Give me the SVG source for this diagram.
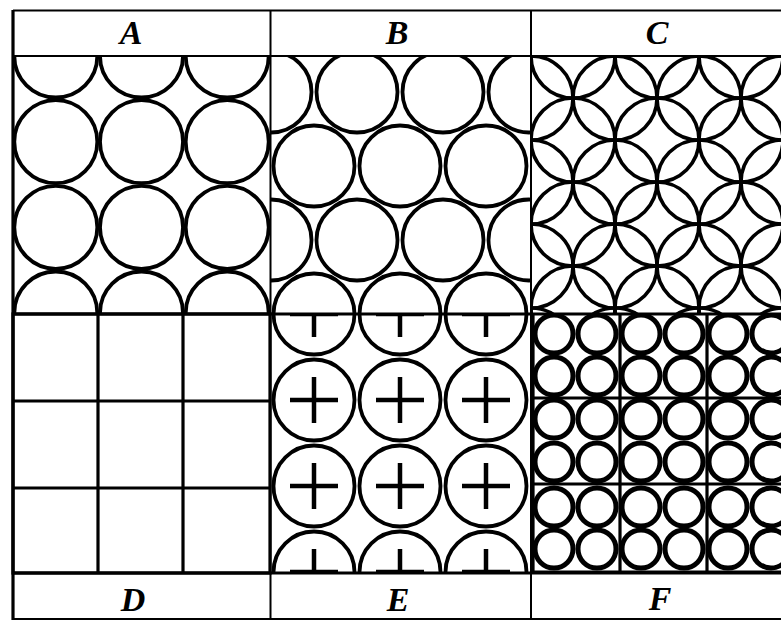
<svg xmlns="http://www.w3.org/2000/svg" xmlns:xlink="http://www.w3.org/1999/xlink" width="781" height="621" viewBox="0 0 781 621">
<style>
.frame{stroke:#000;stroke-width:2;fill:none}
.heavy{stroke:#000;stroke-width:3.2;fill:none}
.ca{fill:none;stroke:#000;stroke-width:3.8}
.cb{fill:none;stroke:#000;stroke-width:3.8}
.cc{fill:none;stroke:#000;stroke-width:3.6}
.cf{fill:none;stroke:#000;stroke-width:5}
.cross{stroke:#000;stroke-width:4.5;fill:none}
.lbl{font-family:"Liberation Serif","Times New Roman",serif;font-style:italic;font-weight:bold;font-size:34px;fill:#000;text-anchor:middle}
</style>
<defs>
<clipPath id="clipA"><rect x="13" y="56" width="257" height="258"/></clipPath>
<clipPath id="clipB"><rect x="270" y="56" width="261" height="258"/></clipPath>
<clipPath id="clipC"><rect x="531" y="56" width="250" height="258"/></clipPath>
<clipPath id="clipE"><rect x="270" y="314" width="261" height="259"/></clipPath>
<clipPath id="clipF"><rect x="531" y="314" width="250" height="259"/></clipPath>
<g id="crossT"><line x1="-24" y1="0" x2="24" y2="0"/><line x1="0" y1="-23" x2="0" y2="23"/></g>
</defs>
<rect x="0" y="0" width="781" height="621" fill="#fff"/>

<g id="panelA" clip-path="url(#clipA)">
<circle class="ca" cx="55.8" cy="56" r="41.5"/><circle class="ca" cx="141.5" cy="56" r="41.5"/><circle class="ca" cx="227.2" cy="56" r="41.5"/>
<circle class="ca" cx="55.8" cy="141.7" r="41.5"/><circle class="ca" cx="141.5" cy="141.7" r="41.5"/><circle class="ca" cx="227.2" cy="141.7" r="41.5"/>
<circle class="ca" cx="55.8" cy="227.3" r="41.5"/><circle class="ca" cx="141.5" cy="227.3" r="41.5"/><circle class="ca" cx="227.2" cy="227.3" r="41.5"/>
<circle class="ca" cx="55.8" cy="313" r="41.5"/><circle class="ca" cx="141.5" cy="313" r="41.5"/><circle class="ca" cx="227.2" cy="313" r="41.5"/>
</g>

<g id="panelB" clip-path="url(#clipB)">
<circle class="cb" cx="271" cy="92" r="40.5"/><circle class="cb" cx="357" cy="92" r="40.5"/><circle class="cb" cx="443" cy="92" r="40.5"/><circle class="cb" cx="529" cy="92" r="40.5"/>
<circle class="cb" cx="314" cy="166" r="40.5"/><circle class="cb" cx="400" cy="166" r="40.5"/><circle class="cb" cx="486" cy="166" r="40.5"/>
<circle class="cb" cx="271" cy="240" r="40.5"/><circle class="cb" cx="357" cy="240" r="40.5"/><circle class="cb" cx="443" cy="240" r="40.5"/><circle class="cb" cx="529" cy="240" r="40.5"/>
<circle class="cb" cx="314" cy="314" r="40.5"/><circle class="cb" cx="400" cy="314" r="40.5"/><circle class="cb" cx="486" cy="314" r="40.5"/>
</g>

<g id="panelC" clip-path="url(#clipC)">
<circle class="cc" cx="531" cy="14" r="42"/><circle class="cc" cx="615" cy="14" r="42"/><circle class="cc" cx="699" cy="14" r="42"/><circle class="cc" cx="783" cy="14" r="42"/>
<circle class="cc" cx="489" cy="56" r="42"/><circle class="cc" cx="573" cy="56" r="42"/><circle class="cc" cx="657" cy="56" r="42"/><circle class="cc" cx="741" cy="56" r="42"/><circle class="cc" cx="825" cy="56" r="42"/>
<circle class="cc" cx="531" cy="98" r="42"/><circle class="cc" cx="615" cy="98" r="42"/><circle class="cc" cx="699" cy="98" r="42"/><circle class="cc" cx="783" cy="98" r="42"/>
<circle class="cc" cx="489" cy="140" r="42"/><circle class="cc" cx="573" cy="140" r="42"/><circle class="cc" cx="657" cy="140" r="42"/><circle class="cc" cx="741" cy="140" r="42"/><circle class="cc" cx="825" cy="140" r="42"/>
<circle class="cc" cx="531" cy="182" r="42"/><circle class="cc" cx="615" cy="182" r="42"/><circle class="cc" cx="699" cy="182" r="42"/><circle class="cc" cx="783" cy="182" r="42"/>
<circle class="cc" cx="489" cy="224" r="42"/><circle class="cc" cx="573" cy="224" r="42"/><circle class="cc" cx="657" cy="224" r="42"/><circle class="cc" cx="741" cy="224" r="42"/><circle class="cc" cx="825" cy="224" r="42"/>
<circle class="cc" cx="531" cy="266" r="42"/><circle class="cc" cx="615" cy="266" r="42"/><circle class="cc" cx="699" cy="266" r="42"/><circle class="cc" cx="783" cy="266" r="42"/>
<circle class="cc" cx="489" cy="308" r="42"/><circle class="cc" cx="573" cy="308" r="42"/><circle class="cc" cx="657" cy="308" r="42"/><circle class="cc" cx="741" cy="308" r="42"/><circle class="cc" cx="825" cy="308" r="42"/>
<circle class="cc" cx="531" cy="350" r="42"/><circle class="cc" cx="615" cy="350" r="42"/><circle class="cc" cx="699" cy="350" r="42"/><circle class="cc" cx="783" cy="350" r="42"/>
</g>

<g id="panelD">
<rect class="heavy" x="13" y="314" width="257" height="259"/>
<line class="heavy" x1="98" y1="314" x2="98" y2="573"/>
<line class="heavy" x1="183" y1="314" x2="183" y2="573"/>
<line class="heavy" x1="13" y1="401" x2="270" y2="401"/>
<line class="heavy" x1="13" y1="488" x2="270" y2="488"/>
</g>

<g id="panelE" clip-path="url(#clipE)">
<circle class="cb" cx="314" cy="314" r="40.5"/><circle class="cb" cx="400" cy="314" r="40.5"/><circle class="cb" cx="486" cy="314" r="40.5"/>
<circle class="cb" cx="314" cy="400" r="40.5"/><circle class="cb" cx="400" cy="400" r="40.5"/><circle class="cb" cx="486" cy="400" r="40.5"/>
<circle class="cb" cx="314" cy="486" r="40.5"/><circle class="cb" cx="400" cy="486" r="40.5"/><circle class="cb" cx="486" cy="486" r="40.5"/>
<circle class="cb" cx="314" cy="572" r="40.5"/><circle class="cb" cx="400" cy="572" r="40.5"/><circle class="cb" cx="486" cy="572" r="40.5"/>
<g class="cross">
<use xlink:href="#crossT" x="314" y="314"/><use xlink:href="#crossT" x="400" y="314"/><use xlink:href="#crossT" x="486" y="314"/>
<use xlink:href="#crossT" x="314" y="400"/><use xlink:href="#crossT" x="400" y="400"/><use xlink:href="#crossT" x="486" y="400"/>
<use xlink:href="#crossT" x="314" y="486"/><use xlink:href="#crossT" x="400" y="486"/><use xlink:href="#crossT" x="486" y="486"/>
<use xlink:href="#crossT" x="314" y="572"/><use xlink:href="#crossT" x="400" y="572"/><use xlink:href="#crossT" x="486" y="572"/>
</g>
</g>

<g id="panelF" clip-path="url(#clipF)">
<g class="heavy">
<line x1="533" y1="314" x2="533" y2="573"/><line x1="620" y1="314" x2="620" y2="573"/><line x1="707" y1="314" x2="707" y2="573"/>
<line x1="531" y1="398" x2="781" y2="398"/><line x1="531" y1="484" x2="781" y2="484"/><line x1="531" y1="572" x2="781" y2="572"/>
</g>
<circle class="cf" cx="554" cy="334" r="19"/><circle class="cf" cx="597" cy="334" r="19"/><circle class="cf" cx="641" cy="334" r="19"/><circle class="cf" cx="684" cy="334" r="19"/><circle class="cf" cx="728" cy="334" r="19"/><circle class="cf" cx="771" cy="334" r="19"/>
<circle class="cf" cx="554" cy="376" r="19"/><circle class="cf" cx="597" cy="376" r="19"/><circle class="cf" cx="641" cy="376" r="19"/><circle class="cf" cx="684" cy="376" r="19"/><circle class="cf" cx="728" cy="376" r="19"/><circle class="cf" cx="771" cy="376" r="19"/>
<circle class="cf" cx="554" cy="419" r="19"/><circle class="cf" cx="597" cy="419" r="19"/><circle class="cf" cx="641" cy="419" r="19"/><circle class="cf" cx="684" cy="419" r="19"/><circle class="cf" cx="728" cy="419" r="19"/><circle class="cf" cx="771" cy="419" r="19"/>
<circle class="cf" cx="554" cy="462" r="19"/><circle class="cf" cx="597" cy="462" r="19"/><circle class="cf" cx="641" cy="462" r="19"/><circle class="cf" cx="684" cy="462" r="19"/><circle class="cf" cx="728" cy="462" r="19"/><circle class="cf" cx="771" cy="462" r="19"/>
<circle class="cf" cx="554" cy="507" r="19"/><circle class="cf" cx="597" cy="507" r="19"/><circle class="cf" cx="641" cy="507" r="19"/><circle class="cf" cx="684" cy="507" r="19"/><circle class="cf" cx="728" cy="507" r="19"/><circle class="cf" cx="771" cy="507" r="19"/>
<circle class="cf" cx="554" cy="549" r="19"/><circle class="cf" cx="597" cy="549" r="19"/><circle class="cf" cx="641" cy="549" r="19"/><circle class="cf" cx="684" cy="549" r="19"/><circle class="cf" cx="728" cy="549" r="19"/><circle class="cf" cx="771" cy="549" r="19"/>
</g>

<g id="frame">
<line class="frame" x1="13" y1="10.5" x2="781" y2="10.5"/>
<line class="frame" x1="13" y1="56" x2="781" y2="56"/>
<line class="heavy" x1="13" y1="314" x2="781" y2="314"/>
<line class="heavy" x1="13" y1="573" x2="781" y2="573"/>
<line class="frame" x1="13" y1="619" x2="781" y2="619"/>
<line class="heavy" x1="13" y1="10" x2="13" y2="620"/>
<line class="frame" x1="270.5" y1="10" x2="270.5" y2="620"/>
<line class="frame" x1="531" y1="10" x2="531" y2="620"/>
</g>

<g id="labels">
<text class="lbl" x="131" y="44">A</text>
<text class="lbl" x="397" y="44">B</text>
<text class="lbl" x="657" y="44">C</text>
<text class="lbl" x="133" y="611">D</text>
<text class="lbl" x="398" y="611">E</text>
<text class="lbl" x="660" y="610">F</text>
</g>
</svg>
